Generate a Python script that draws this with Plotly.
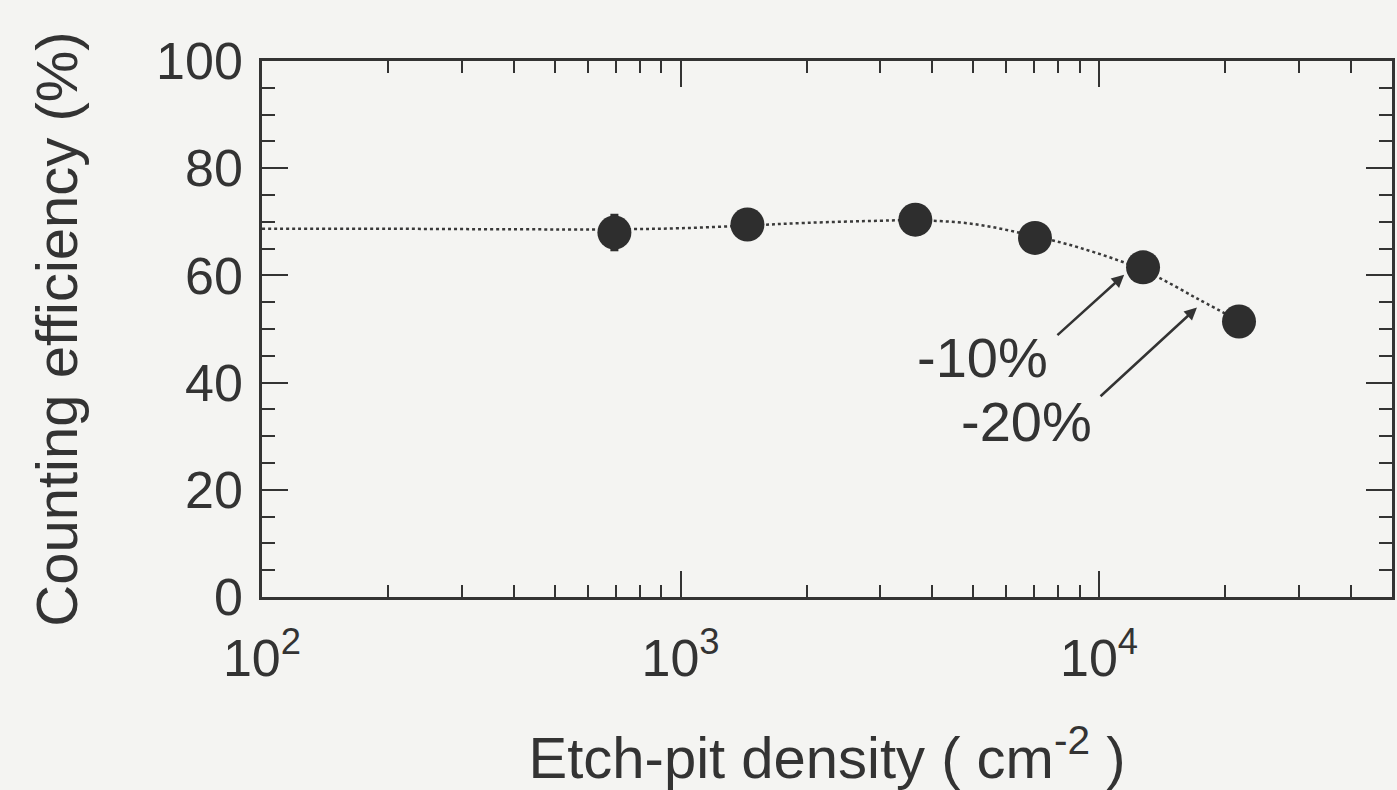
import plotly.graph_objects as go

# measured points
density = [695, 1445, 3640, 7030, 12740, 21600]
efficiency = [68.0, 69.5, 70.4, 67.0, 61.5, 51.4]
err = [3.5, 1.0, 1.0, 1.0, 1.0, 1.0]

# dotted guide curve
curve_x = [100, 200, 400, 700, 1000, 1445, 2000, 3000, 3640, 5000, 7030, 8950, 12740, 17330, 21600]
curve_y = [68.7, 68.7, 68.6, 68.6, 68.8, 69.3, 69.8, 70.2, 70.3, 69.6, 67.3, 65.2, 61.0, 55.5, 51.5]

x_tickvals = [100, 1000, 10000]
x_ticktext = ["10<sup>2</sup>", "10<sup>3</sup>", "10<sup>4</sup>"]
y_tickvals = [0, 20, 40, 60, 80, 100]

ink = "#333333"
bg = "#f4f4f2"
font = "Liberation Sans, Arial, sans-serif"

fig = go.Figure()
fig.add_trace(go.Scatter(
    x=curve_x, y=curve_y, mode="lines",
    line=dict(color="#3a3a3a", width=2.5, dash="dot", shape="spline"),
    hoverinfo="skip", showlegend=False))
fig.add_trace(go.Scatter(
    x=density, y=efficiency, mode="markers",
    marker=dict(size=34, color="#2e2e2e"),
    error_y=dict(type="data", array=err, color="#2e2e2e", thickness=8, width=0),
    showlegend=False))

fig.add_annotation(x=4.06, y=60.1, ax=3.897, ay=48.6, xref="x", yref="y",
                   axref="x", ayref="y", showarrow=True, arrowhead=2,
                   arrowsize=1, arrowwidth=2.5, arrowcolor=ink, text="")
fig.add_annotation(x=4.234, y=54.0, ax=4.0, ay=37.2, xref="x", yref="y",
                   axref="x", ayref="y", showarrow=True, arrowhead=2,
                   arrowsize=1, arrowwidth=2.5, arrowcolor=ink, text="")
fig.add_annotation(x=3.721, y=44.7, xref="x", yref="y", text="-10%",
                   showarrow=False, font=dict(size=56, color=ink, family=font))
fig.add_annotation(x=3.826, y=32.8, xref="x", yref="y", text="-20%",
                   showarrow=False, font=dict(size=56, color=ink, family=font))

fig.update_layout(
    width=1397, height=790,
    margin=dict(l=262, r=2, t=61, b=192),
    paper_bgcolor=bg, plot_bgcolor=bg,
    font=dict(family=font, color=ink, size=52),
    xaxis=dict(
        type="log", range=[2, 4.7],
        tickmode="array", tickvals=x_tickvals, ticktext=x_ticktext,
        ticks="inside", ticklen=26, tickwidth=2, tickcolor=ink,
        minor=dict(ticks="inside", ticklen=12, tickwidth=2, tickcolor=ink, dtick="D1", showgrid=False),
        showline=True, linecolor=ink, linewidth=2.5, mirror="ticks",
        showgrid=False, zeroline=False,
        ticklabelstandoff=14,
        tickfont=dict(size=52, color=ink),
        title=dict(text="Etch-pit density ( cm<sup>-2</sup> )", font=dict(size=58, color=ink), standoff=60),
    ),
    yaxis=dict(
        range=[0, 100],
        tickmode="array", tickvals=y_tickvals,
        ticks="inside", ticklen=26, tickwidth=2, tickcolor=ink,
        minor=dict(ticks="inside", ticklen=13, tickwidth=2, tickcolor=ink, dtick=5, showgrid=False),
        showline=True, linecolor=ink, linewidth=2.5, mirror="ticks",
        showgrid=False, zeroline=False,
        ticklabelstandoff=6,
        tickfont=dict(size=52, color=ink),
        title=dict(text="Counting efficiency (%)", font=dict(size=58, color=ink), standoff=60),
    ),
)

fig.write_html("out.html")
